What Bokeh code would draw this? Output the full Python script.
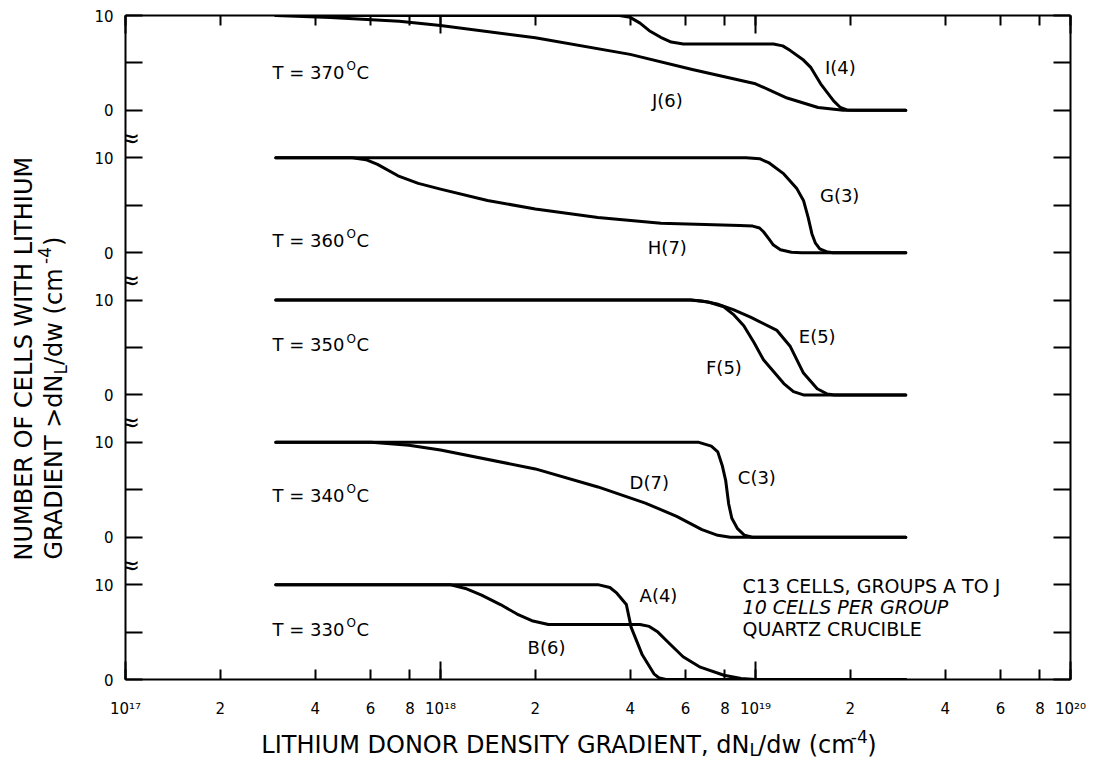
import math
from bokeh.plotting import figure
from bokeh.layouts import row, column
from bokeh.models import (Range1d, FixedTicker, LogAxis, LinearAxis,
                          CustomJSTickFormatter, CustomLabelingPolicy, ColumnDataSource)
from bokeh.embed import file_html
from bokeh.resources import INLINE
from bokeh.core.properties import value

FONT = "DejaVu Sans"

# ------------------------------------------------------------------ data
temps = ["330", "340", "350", "360", "370"]
panel_offset = {"330": 0, "340": 15, "350": 30, "360": 45, "370": 60}

# number of cells (0..10) with gradient > x, x in cm^-4
A_x = [3e17, 3.16e18, 3.45e18, 3.63e18, 3.89e18, 4.03e18, 4.37e18, 4.76e18, 4.95e18, 5.2e18, 3e19]
A_y = [10, 10, 9.7, 9.1, 7.9, 5.5, 2.6, 0.6, 0.15, 0, 0]
B_x = [3e17, 1.07e18, 1.2e18, 1.35e18, 1.55e18, 1.75e18, 1.95e18, 2.2e18, 4.3e18, 4.6e18,
       4.9e18, 5.25e18, 5.89e18, 6.68e18, 7.94e18, 9e18, 1e19, 3e19]
B_y = [10, 10, 9.6, 8.9, 7.9, 6.9, 6.2, 5.8, 5.8, 5.6, 5.0, 4.0, 2.4, 1.3, 0.45, 0.1, 0, 0]

C_x = [3e17, 6.61e18, 7.24e18, 7.59e18, 7.85e18, 8.04e18, 8.22e18, 8.41e18,
       8.77e18, 9.23e18, 9.77e18, 3e19]
C_y = [10, 10, 9.6, 9.0, 7.5, 6.0, 3.5, 2.0, 0.9, 0.2, 0, 0]
D_x = [3e17, 6.03e17, 7.94e17, 1e18, 2e18, 3.16e18, 4.47e18, 5.62e18, 6.76e18,
       7.59e18, 8.32e18, 3e19]
D_y = [10, 10, 9.7, 9.2, 7.2, 5.3, 3.6, 2.2, 0.8, 0.2, 0, 0]

E_x = [3e17, 6.22e18, 6.76e18, 7.55e18, 8.5e18, 9.64e18, 1.17e19, 1.29e19, 1.42e19,
       1.57e19, 1.69e19, 1.78e19, 3e19]
E_y = [10, 10, 9.9, 9.6, 9.0, 8.2, 6.8, 5.1, 2.3, 0.65, 0.1, 0, 0]
F_x = [3e17, 6.22e18, 7.08e18, 7.93e18, 8.5e18, 9.18e18, 9.9e18, 1.06e19, 1.23e19,
       1.32e19, 1.42e19, 3e19]
F_y = [10, 10, 9.8, 9.3, 8.5, 7.3, 5.5, 3.7, 1.2, 0.35, 0, 0]

G_x = [3e17, 9.33e18, 1.03e19, 1.10e19, 1.23e19, 1.35e19, 1.42e19, 1.47e19, 1.51e19,
       1.55e19, 1.6e19, 1.68e19, 1.76e19, 3e19]
G_y = [10, 10, 9.9, 9.5, 8.3, 6.8, 5.5, 3.7, 2.0, 1.0, 0.4, 0.1, 0, 0]
H_x = [3e17, 5.25e17, 5.8e17, 6.31e17, 7.33e17, 8.5e17, 1e18, 1.41e18, 2e18, 3.16e18,
       5.01e18, 8.91e18, 9.8e18, 1.03e19, 1.06e19, 1.10e19, 1.14e19, 1.2e19, 1.3e19,
       1.4e19, 3e19]
H_y = [10, 10, 9.8, 9.3, 8.1, 7.3, 6.7, 5.5, 4.6, 3.7, 3.1, 2.85, 2.8, 2.6, 2.2, 1.5,
       0.8, 0.3, 0.05, 0, 0]

I_x = [3e17, 3.7e18, 4.0e18, 4.3e18, 4.6e18, 5.0e18, 5.4e18, 5.9e18, 1.14e19, 1.22e19,
       1.29e19, 1.42e19, 1.5e19, 1.61e19, 1.77e19, 1.86e19, 1.95e19, 2.05e19, 3e19]
I_y = [10, 10, 9.8, 9.2, 8.4, 7.7, 7.2, 7.0, 7.0, 6.8, 6.3, 5.3, 4.5, 2.8, 1.0, 0.3,
       0.05, 0, 0]
J_x = [3e17, 4.47e17, 7.4e17, 1e18, 2e18, 4e18, 6.3e18, 1e19, 1.26e19, 1.58e19,
       1.9e19, 3e19]
J_y = [10, 9.8, 9.4, 8.95, 7.65, 5.9, 4.3, 2.8, 1.3, 0.3, 0, 0]

curves = [("330", A_x, A_y), ("330", B_x, B_y), ("340", C_x, C_y), ("340", D_x, D_y),
          ("350", E_x, E_y), ("350", F_x, F_y), ("360", G_x, G_y), ("360", H_x, H_y),
          ("370", I_x, I_y), ("370", J_x, J_y)]

curve_names = ["A(4)", "B(6)", "C(3)", "D(7)", "E(5)", "F(5)", "G(3)", "H(7)", "I(4)", "J(6)"]
curve_name_panel = ["330", "330", "340", "340", "350", "350", "360", "360", "370", "370"]
curve_name_x = [4.92e18, 2.17e18, 1.01e19, 4.6e18, 1.57e19, 7.94e18, 1.85e19, 5.25e18, 1.86e19, 5.25e18]
curve_name_y = [8.85, 3.4, 6.3, 5.8, 6.2, 2.85, 6.0, 0.5, 4.5, 1.05]

temp_label_y = [5.3, 4.4, 5.3, 1.3, 4.0]
temp_label_x = 2.93e17

note_lines = ["C13 CELLS, GROUPS A TO J", "10 CELLS PER GROUP", "QUARTZ CRUCIBLE"]
note_styles = ["normal", "italic", "normal"]
note_x = 9.1e18
note_y = [9.9, 7.6, 5.3]

x_tick_vals = [1e17, 2e17, 4e17, 6e17, 8e17, 1e18, 2e18, 4e18, 6e18, 8e18,
               1e19, 2e19, 4e19, 6e19, 8e19, 1e20]
x_tick_labels = ["10¹⁷", "2", "4", "6", "8", "10¹⁸", "2", "4", "6", "8",
                 "10¹⁹", "2", "4", "6", "8", "10²⁰"]
x_decades = [1e17, 1e18, 1e19, 1e20]

y_tick_vals = [0, 5, 10, 15, 20, 25, 30, 35, 40, 45, 50, 55, 60, 65, 70]
y_tick_labels = ["0", "", "10", "0", "", "10", "0", "", "10", "0", "", "10", "0", "", "10"]

x_title = ["LITHIUM DONOR DENSITY GRADIENT, dN", "L", "/dw (cm", "-4", ")"]
y_title_1 = "NUMBER OF CELLS WITH LITHIUM"
y_title_2 = ["GRADIENT >dN", "L", "/dw (cm", "-4", ")"]

# ------------------------------------------------------------------ layout
LEFT_W = 70            # width of the left title strip
MAIN_W, MAIN_H = 1030, 725
BOT_H = 34
TOTAL_H = MAIN_H + BOT_H

p = figure(width=MAIN_W, height=MAIN_H, x_axis_type="log",
           x_range=Range1d(1e17, 1e20), y_range=Range1d(0, 70),
           output_backend="svg", toolbar_location=None,
           min_border_left=55, min_border_right=30, min_border_top=15, min_border_bottom=46)
p.grid.visible = False
p.outline_line_color = None
p.background_fill_color = "white"
p.border_fill_color = "white"

x_fmt = CustomJSTickFormatter(args=dict(vals=x_tick_vals, labs=x_tick_labels), code="""
let best = 0, bd = 1e9;
for (let i = 0; i < vals.length; i++) {
  const d = Math.abs(Math.log10(tick) - Math.log10(vals[i]));
  if (d < bd) { bd = d; best = i; }
}
return labs[best];
""")
y_fmt = CustomJSTickFormatter(args=dict(vals=y_tick_vals, labs=y_tick_labels), code="""
let best = 0, bd = 1e9;
for (let i = 0; i < vals.length; i++) {
  const d = Math.abs(tick - vals[i]);
  if (d < bd) { bd = d; best = i; }
}
return labs[best];
""")
hide_all = CustomLabelingPolicy(code="""
for (const i of indices) { indices.unset(i) }
return indices
""")


def style_common(ax):
    ax.axis_line_width = 2
    ax.axis_line_color = "black"
    ax.major_tick_out = 0
    ax.minor_tick_out = 0
    ax.major_tick_line_width = 2
    ax.minor_tick_line_width = 2
    ax.major_tick_line_color = "black"
    ax.minor_tick_line_color = "black"


def style_labels(ax, fmt, standoff):
    ax.formatter = fmt
    ax.major_label_text_font = FONT
    ax.major_label_text_font_size = "15px"
    ax.major_label_text_color = "black"
    ax.major_label_standoff = standoff


def hide_labels(ax):
    ax.major_label_policy = hide_all
    ax.major_label_text_font_size = "1px"
    ax.major_label_standoff = 0


def style_x(ax):
    ax.ticker = FixedTicker(ticks=x_tick_vals, minor_ticks=x_decades)
    style_common(ax)
    ax.major_tick_in = 10
    ax.minor_tick_in = 18


def style_y(ax):
    ax.ticker = FixedTicker(ticks=y_tick_vals, minor_ticks=[])
    style_common(ax)
    ax.major_tick_in = 17
    ax.minor_tick_in = 0


style_x(p.xaxis[0])
style_labels(p.xaxis[0], x_fmt, 20)
style_y(p.yaxis[0])
style_labels(p.yaxis[0], y_fmt, 12)

top_axis = LogAxis()
style_x(top_axis)
hide_labels(top_axis)
p.add_layout(top_axis, "above")

right_axis = LinearAxis()
style_y(right_axis)
hide_labels(right_axis)
p.add_layout(right_axis, "right")

# ------------------------------------------------------------------ curves
for panel, xs, ys in curves:
    off = panel_offset[panel]
    p.line(xs, [v + off for v in ys], line_color="black", line_width=3,
           line_join="round", line_cap="round")

src = ColumnDataSource(dict(
    x=curve_name_x,
    y=[v + panel_offset[pn] for v, pn in zip(curve_name_y, curve_name_panel)],
    t=curve_names))
p.text(x="x", y="y", text="t", source=src, text_font=value(FONT),
       text_font_size="18px", text_align="center", text_baseline="middle",
       text_color="black")

# temperature labels: "T = 3x0" + superscript "O" + "C"
t_y = [ty + panel_offset[tn] for tn, ty in zip(temps, temp_label_y)]
t_x = [temp_label_x] * len(temps)
p.text(x=t_x, y=t_y, text=["T = " + tn for tn in temps], text_font=value(FONT),
       text_font_size="18px", text_align="left", text_baseline="middle", text_color="black")
p.text(x=t_x, y=t_y, text=["O"] * len(temps), x_offset=74, y_offset=-6,
       text_font=value(FONT), text_font_size="12px", text_align="left",
       text_baseline="middle", text_color="black")
p.text(x=t_x, y=t_y, text=["C"] * len(temps), x_offset=84, text_font=value(FONT),
       text_font_size="18px", text_align="left", text_baseline="middle", text_color="black")

# note block
for line, st, ny in zip(note_lines, note_styles, note_y):
    p.text(x=[note_x], y=[ny + panel_offset["330"]], text=[line], text_font=value(FONT),
           text_font_size="19px", text_font_style=st, text_align="left",
           text_baseline="middle", text_color="black")

# axis-break marks
brk_y = [panel_offset[tn] + 12.1 for tn in temps[:-1]]
p.text(x=[1e17] * len(brk_y), y=brk_y, text=["≈"] * len(brk_y), x_offset=4,
       text_font=value(FONT), text_font_size="26px", text_align="center",
       text_baseline="middle", text_color="black")

# ------------------------------------------------------------------ x-axis title strip
FS, FSS = "24px", "17px"
w_L, w_mid, w_exp = 9.5, 101.0, 18.0

bot = figure(width=MAIN_W, height=BOT_H, x_range=Range1d(0, MAIN_W), y_range=Range1d(0, BOT_H),
             output_backend="svg", toolbar_location=None, min_border=0,
             x_axis_location=None, y_axis_location=None)
bot.grid.visible = False
bot.outline_line_color = None
xL = 750 - LEFT_W           # page x where the subscript starts
by0 = BOT_H - (744 - MAIN_H)
bx = [xL, xL, xL + w_L, xL + w_L + w_mid, xL + w_L + w_mid + w_exp]
by = [by0, by0 - 5, by0, by0 + 8, by0]
bal = ["right", "left", "left", "left", "left"]
bfs = [FS, FSS, FS, FSS, FS]
for t, xx, yy, fs, al in zip(x_title, bx, by, bfs, bal):
    bot.text(x=[xx], y=[yy], text=[t], text_font=value(FONT), text_font_size=fs,
             text_align=al, text_baseline="middle", text_color="black")

# ------------------------------------------------------------------ y-axis title strip
left = figure(width=LEFT_W, height=TOTAL_H, x_range=Range1d(0, LEFT_W),
              y_range=Range1d(0, TOTAL_H), output_backend="svg", toolbar_location=None,
              min_border=0, x_axis_location=None, y_axis_location=None)
left.grid.visible = False
left.outline_line_color = None
ang = math.pi / 2
ly0 = TOTAL_H - 560
left.text(x=[23], y=[ly0], text=[y_title_1], text_font=value(FONT), text_font_size=FS,
          angle=ang, text_align="left", text_baseline="middle", text_color="black")
w2_main = 186.0
lyL = ly0 + w2_main
lx = [53, 60, 53, 44, 53]
ly = [lyL, lyL, lyL + w_L, lyL + w_L + w_mid, lyL + w_L + w_mid + w_exp]
lal = ["right", "left", "left", "left", "left"]
for t, xx, yy, fs, al in zip(y_title_2, lx, ly, bfs, lal):
    left.text(x=[xx], y=[yy], text=[t], text_font=value(FONT), text_font_size=fs,
              angle=ang, text_align=al, text_baseline="middle", text_color="black")

layout = row(left, column(p, bot))
open("out.html", "w").write(file_html(layout, INLINE))
